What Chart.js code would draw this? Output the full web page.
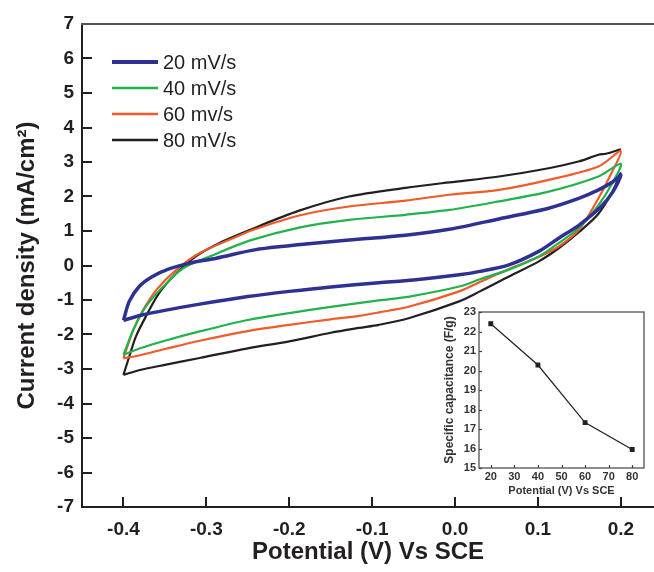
<!DOCTYPE html>
<html>
<head>
<meta charset="utf-8">
<script src="https://cdn.jsdelivr.net/npm/chart.js@4/dist/chart.umd.min.js"></script>
<style>
  html, body { margin: 0; padding: 0; background: #fff; }
  #wrap { position: relative; width: 654px; height: 572px; }
  #mainChart { position: absolute; left: 0; top: 0; }
  #insetChart { position: absolute; left: 430px; top: 300px; }
</style>
</head>
<body>
<div id="wrap">
  <canvas id="mainChart" width="654" height="572"></canvas>
  <canvas id="insetChart" width="224" height="200"></canvas>
</div>
<script>
// CV loops: potential (V vs SCE) and current density (mA/cm2)
var seriesLabels = ['20 mV/s', '40 mV/s', '60 mv/s', '80 mV/s'];
var seriesColors = ['#2e3192', '#22b24c', '#f15a29', '#231f20'];
var seriesWidths = [3.5, 2.2, 2.2, 2.2];

var potential20 = [-0.400, -0.393, -0.381, -0.365, -0.345, -0.320, -0.288, -0.240, -0.180, -0.128, -0.060, -0.007, 0.053, 0.113, 0.150, 0.173, 0.190, 0.200,
                   0.190, 0.175, 0.150, 0.125, 0.101, 0.065, 0.030, 0.005, -0.050, -0.092, -0.150, -0.200, -0.250, -0.308, -0.350, -0.380, -0.400];
var current20 = [-1.59, -1.04, -0.61, -0.32, -0.10, 0.07, 0.21, 0.46, 0.62, 0.74, 0.88, 1.05, 1.35, 1.66, 1.95, 2.19, 2.42, 2.62,
                 2.12, 1.68, 1.18, 0.79, 0.41, 0.02, -0.17, -0.27, -0.42, -0.50, -0.62, -0.75, -0.90, -1.12, -1.30, -1.45, -1.59];

var potential40 = [-0.400, -0.388, -0.373, -0.352, -0.328, -0.296, -0.248, -0.188, -0.128, -0.060, -0.007, 0.053, 0.113, 0.173, 0.200,
                   0.190, 0.173, 0.150, 0.125, 0.101, 0.065, 0.030, 0.005, -0.055, -0.092, -0.150, -0.200, -0.250, -0.308, -0.350, -0.380, -0.400];
var current40 = [-2.59, -1.86, -1.19, -0.61, -0.08, 0.26, 0.72, 1.10, 1.32, 1.47, 1.61, 1.86, 2.14, 2.58, 2.95,
                 2.40, 1.75, 1.10, 0.65, 0.26, -0.12, -0.40, -0.61, -0.90, -1.01, -1.20, -1.38, -1.58, -1.91, -2.18, -2.40, -2.59];

var potential60 = [-0.400, -0.388, -0.376, -0.360, -0.336, -0.308, -0.268, -0.244, -0.188, -0.128, -0.060, -0.007, 0.053, 0.113, 0.173, 0.200,
                   0.186, 0.173, 0.150, 0.125, 0.101, 0.065, 0.030, 0.005, -0.055, -0.092, -0.116, -0.150, -0.200, -0.250, -0.308, -0.350, -0.380, -0.400];
var current60 = [-2.69, -1.86, -1.28, -0.70, -0.12, 0.36, 0.79, 1.03, 1.45, 1.71, 1.88, 2.05, 2.19, 2.48, 2.87, 3.31,
                 2.55, 1.95, 1.05, 0.55, 0.25, -0.10, -0.48, -0.75, -1.19, -1.36, -1.46, -1.56, -1.72, -1.90, -2.18, -2.42, -2.60, -2.69];

var potential80 = [-0.400, -0.393, -0.385, -0.373, -0.357, -0.336, -0.313, -0.280, -0.250, -0.188, -0.128, -0.060, -0.007, 0.053, 0.113, 0.150, 0.173, 0.182, 0.200,
                   0.200, 0.200, 0.190, 0.173, 0.150, 0.125, 0.101, 0.065, 0.030, 0.005, -0.055, -0.092, -0.116, -0.150, -0.200, -0.250, -0.308, -0.350, -0.380, -0.400];
var current80 = [-3.17, -2.64, -2.06, -1.48, -0.80, -0.22, 0.26, 0.70, 1.01, 1.59, 2.00, 2.25, 2.41, 2.58, 2.82, 3.02, 3.21, 3.24, 3.37,
                 null, 2.70, 2.15, 1.50, 0.98, 0.50, 0.12, -0.32, -0.75, -1.04, -1.52, -1.72, -1.81, -1.95, -2.20, -2.40, -2.68, -2.88, -3.03, -3.17];

var xTicks = [-0.4, -0.3, -0.2, -0.1, 0.0, 0.1, 0.2];
var yTicks = [-7, -6, -5, -4, -3, -2, -1, 0, 1, 2, 3, 4, 5, 6, 7];

// inset: specific capacitance vs scan rate
var insetX = [20, 40, 60, 80];
var insetY = [22.4, 20.28, 17.33, 15.95];
var insetXTicks = [20, 30, 40, 50, 60, 70, 80];
var insetYTicks = [15, 16, 17, 18, 19, 20, 21, 22, 23];

var potentials = [potential20, potential40, potential60, potential80];
var currents = [current20, current40, current60, current80];

var FONT = '"Liberation Sans", Arial, sans-serif';
var INK = '#231f20';

var datasets = seriesLabels.map(function (label, i) {
  return {
    label: label,
    data: potentials[i].map(function (v, k) { return { x: v, y: currents[i][k] }; }),
    borderColor: seriesColors[i],
    borderWidth: seriesWidths[i],
    pointRadius: 0,
    tension: 0.3,
    fill: false
  };
});

// ticks drawn inside the frame, plus the top frame line and the legend
var mainDecor = {
  id: 'mainDecor',
  afterDraw: function (chart) {
    var ctx = chart.ctx, a = chart.chartArea;
    var xs = chart.scales.x, ys = chart.scales.y;
    ctx.save();
    ctx.strokeStyle = INK;
    ctx.lineWidth = 2;
    xTicks.forEach(function (v) {
      var px = Math.round(xs.getPixelForValue(v));
      ctx.beginPath(); ctx.moveTo(px, a.bottom); ctx.lineTo(px, a.bottom - 10); ctx.stroke();
    });
    yTicks.forEach(function (v) {
      var py = Math.round(ys.getPixelForValue(v));
      ctx.beginPath(); ctx.moveTo(a.left, py); ctx.lineTo(a.left + 10, py); ctx.stroke();
    });
    ctx.strokeStyle = '#555';
    ctx.beginPath(); ctx.moveTo(a.left - 1, a.top); ctx.lineTo(a.right, a.top); ctx.stroke();

    // legend
    ctx.font = '20px ' + FONT;
    ctx.textBaseline = 'middle';
    ctx.fillStyle = INK;
    seriesLabels.forEach(function (label, i) {
      var y = 62 + i * 26;
      ctx.strokeStyle = seriesColors[i];
      ctx.lineWidth = i === 0 ? 4 : 2.5;
      ctx.beginPath(); ctx.moveTo(112, y); ctx.lineTo(158, y); ctx.stroke();
      ctx.fillText(label, 163, y + 1);
    });
    ctx.restore();
  }
};

new Chart(document.getElementById('mainChart'), {
  type: 'line',
  data: { datasets: datasets },
  options: {
    responsive: false,
    animation: false,
    devicePixelRatio: 1,
    layout: { padding: { top: 24, right: 0, left: 0, bottom: 0 } },
    plugins: { legend: { display: false }, tooltip: { enabled: false } },
    scales: {
      x: {
        type: 'linear',
        min: -0.45,
        max: 0.24,
        grid: { display: false, drawTicks: false },
        border: { display: true, color: INK, width: 2 },
        afterBuildTicks: function (s) { s.ticks = xTicks.map(function (v) { return { value: v }; }); },
        afterFit: function (s) { s.height = 65; },
        ticks: {
          padding: 11,
          color: INK,
          font: { family: FONT, size: 19, weight: 'bold' },
          callback: function (v) { return Number(v).toFixed(1); }
        },
        title: {
          display: true,
          text: 'Potential (V) Vs SCE',
          color: INK,
          font: { family: FONT, size: 24, weight: 'bold' },
          padding: { top: 0, bottom: 5 }
        }
      },
      y: {
        type: 'linear',
        min: -7,
        max: 7,
        grid: { display: false, drawTicks: false },
        border: { display: true, color: INK, width: 2 },
        afterBuildTicks: function (s) { s.ticks = yTicks.map(function (v) { return { value: v }; }); },
        afterFit: function (s) { s.width = 82; },
        ticks: {
          padding: 8,
          color: INK,
          font: { family: FONT, size: 19, weight: 'bold' },
          callback: function (v) { return String(v); }
        },
        title: {
          display: true,
          text: 'Current density (mA/cm²)',
          color: INK,
          font: { family: FONT, size: 24, weight: 'bold' },
          padding: { top: 13, bottom: 0 }
        }
      }
    }
  },
  plugins: [mainDecor]
});

var insetDecor = {
  id: 'insetDecor',
  afterDraw: function (chart) {
    var ctx = chart.ctx, a = chart.chartArea;
    var xs = chart.scales.x, ys = chart.scales.y;
    ctx.save();
    ctx.strokeStyle = '#444';
    ctx.lineWidth = 1.2;
    ctx.strokeRect(a.left, a.top, a.right - a.left, a.bottom - a.top);
    insetXTicks.forEach(function (v) {
      var px = Math.round(xs.getPixelForValue(v)) + 0.5;
      ctx.beginPath(); ctx.moveTo(px, a.bottom); ctx.lineTo(px, a.bottom - 3); ctx.stroke();
    });
    insetYTicks.forEach(function (v) {
      var py = Math.round(ys.getPixelForValue(v)) + 0.5;
      ctx.beginPath(); ctx.moveTo(a.left, py); ctx.lineTo(a.left + 3, py); ctx.stroke();
    });
    ctx.restore();
  }
};

new Chart(document.getElementById('insetChart'), {
  type: 'line',
  data: {
    datasets: [{
      label: 'Specific capacitance',
      data: insetX.map(function (v, k) { return { x: v, y: insetY[k] }; }),
      borderColor: INK,
      borderWidth: 1.2,
      pointStyle: 'rect',
      pointRadius: 2.6,
      pointBackgroundColor: INK,
      pointBorderColor: INK,
      tension: 0
    }]
  },
  options: {
    responsive: false,
    animation: false,
    devicePixelRatio: 1,
    layout: { padding: { top: 12, right: 10, left: 0, bottom: 0 } },
    plugins: { legend: { display: false }, tooltip: { enabled: false } },
    scales: {
      x: {
        type: 'linear',
        min: 15,
        max: 85,
        grid: { display: false, drawTicks: false },
        border: { display: false },
        afterBuildTicks: function (s) { s.ticks = insetXTicks.map(function (v) { return { value: v }; }); },
        afterFit: function (s) { s.height = 32; },
        ticks: { padding: 2, color: '#333', font: { family: FONT, size: 11, weight: 'bold' } },
        title: {
          display: true,
          text: 'Potential (V) Vs SCE',
          color: '#333',
          font: { family: FONT, size: 11, weight: 'bold' },
          padding: { top: 0, bottom: 2 }
        }
      },
      y: {
        type: 'linear',
        min: 15,
        max: 23,
        grid: { display: false, drawTicks: false },
        border: { display: false },
        afterBuildTicks: function (s) { s.ticks = insetYTicks.map(function (v) { return { value: v }; }); },
        afterFit: function (s) { s.width = 49; },
        ticks: { padding: 3, color: '#333', font: { family: FONT, size: 11, weight: 'bold' } },
        title: {
          display: true,
          text: 'Specific capacitance (F/g)',
          color: '#333',
          font: { family: FONT, size: 12, weight: 'bold' },
          padding: { top: 12, bottom: 0 }
        }
      }
    }
  },
  plugins: [insetDecor]
});
</script>
</body>
</html>
